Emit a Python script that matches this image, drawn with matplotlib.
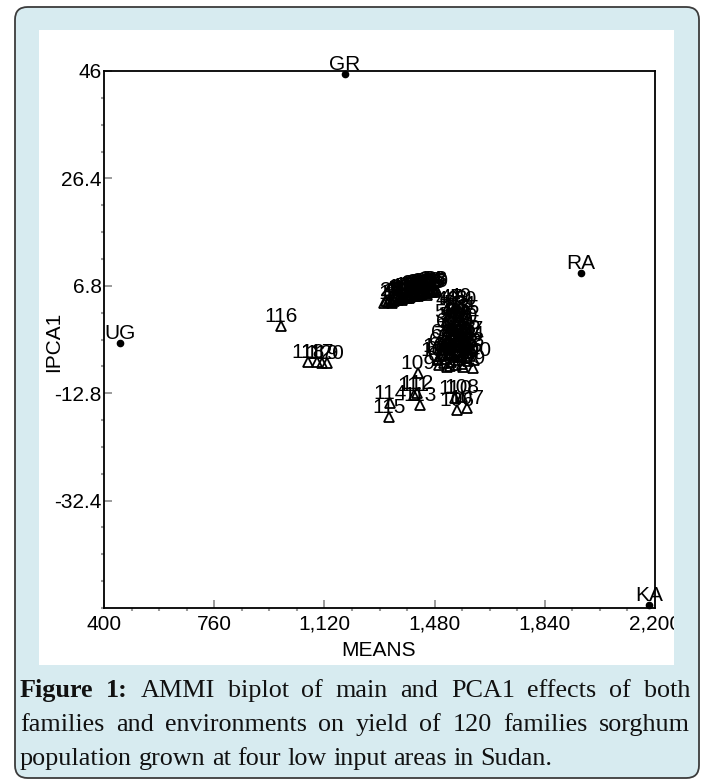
import numpy as np
import matplotlib.pyplot as plt
from matplotlib.patches import FancyBboxPatch, Rectangle

# ---- data ----
fam_ids = list(range(1, 121))
fam_means = [
    # 1-45 (upper cluster)
    1316, 1322, 1327, 1333, 1338, 1344, 1349, 1354, 1360, 1365,
    1370, 1375, 1380, 1385, 1390, 1395, 1400, 1404, 1408, 1412,
    1416, 1420, 1424, 1428, 1432, 1436, 1440, 1444, 1448, 1452,
    1456, 1460, 1464, 1468, 1472, 1476, 1480, 1484, 1488, 1340,
    1372, 1398, 1426, 1455, 1478,
    # 46-104 (right cluster)
    1520, 1535, 1550, 1565, 1580, 1528, 1545, 1560, 1575, 1588,
    1518, 1532, 1550, 1567, 1582, 1524, 1540, 1556, 1572, 1590,
    1490, 1495, 1500, 1505, 1508, 1512, 1515, 1518, 1521, 1525,
    1528, 1532, 1535, 1538, 1542, 1546, 1549, 1552, 1555, 1558,
    1562, 1565, 1568, 1573, 1576, 1579, 1582, 1586, 1590, 1594,
    1597, 1600, 1603, 1606, 1609, 1498, 1530, 1560, 1585,
    # 105-120
    1490, 1553, 1586, 1570, 1426, 1547, 1412, 1423, 1432, 1334,
    1331, 978, 1096, 1066, 1112, 1128,
]
fam_ipca = [
    3.6, 4.1, 3.8, 4.3, 3.9, 4.4, 4.0, 4.6, 4.2, 4.7,
    4.3, 4.9, 4.5, 5.0, 4.6, 5.1, 4.8, 5.3, 4.9, 5.4,
    5.0, 5.5, 5.1, 5.6, 5.2, 5.7, 5.3, 5.8, 5.4, 5.9,
    5.5, 6.0, 5.6, 6.1, 5.7, 6.2, 5.8, 6.1, 5.9, 3.6,
    4.2, 4.5, 4.9, 5.2, 5.6,
    2.6, 2.9, 2.7, 3.0, 2.5, 1.5, 1.8, 1.2, 1.6, 0.9,
    0.2, -0.4, 0.4, -0.2, -0.6, -1.5, -2.0, -1.3, -2.2, -1.8,
    -6.5, -7.6, -4.9, -3.4, -5.8, -7.2, -3.9, -6.6, -8.0, -4.6,
    -2.9, -5.5, -7.1, -3.6, -6.2, -4.3, -7.6, -5.1, -3.2, -6.8,
    -4.0, -5.9, -7.4, -8.0, -3.5, -4.8, -6.3, -5.4, -7.0, -4.2,
    -6.0, -3.0, -5.0, -8.2, -6.7, -6.0, -7.9, -2.7, -3.8,
    -6.8, -15.9, -15.5, -13.5, -9.1, -13.7, -13.2, -12.8, -15.0, -14.6,
    -17.1, -0.5, -7.1, -7.1, -7.3, -7.3,
]
env_names = ['GR', 'UG', 'RA', 'KA']
env_means = [1187, 452, 1958, 2180]
env_ipca = [45.5, -3.6, 9.1, -51.5]

xticks = [400, 760, 1120, 1480, 1840, 2200]
xtick_labels = ['400', '760', '1,120', '1,480', '1,840', '2,200']
yticks = [46, 26.4, 6.8, -12.8, -32.4]
ytick_labels = ['46', '26.4', '6.8', '-12.8', '-32.4']

caption_l1 = [('Figure', True), ('1:', True), ('AMMI', False), ('biplot', False),
              ('of', False), ('main', False), ('and', False), ('PCA1', False),
              ('effects', False), ('of', False), ('both', False)]
caption_l2 = 'families and environments on yield of 120 families sorghum'
caption_l3 = 'population grown at four low input areas in Sudan.'

# ---- figure ----
W, H = 703, 783
fx = lambda px: px / W
fy = lambda py: 1 - py / H
BLUE = '#d7ebf0'
SANS = 'Liberation Sans'

fig = plt.figure(figsize=(W / 100, H / 100), dpi=100)

box = FancyBboxPatch((fx(15), fy(778)), fx(699) - fx(15), fy(7) - fy(778),
                     boxstyle='round,pad=0,rounding_size=0.018',
                     mutation_aspect=W / H, transform=fig.transFigure,
                     facecolor=BLUE, edgecolor='#3c3c3c', lw=1.3, zorder=-2)
fig.add_artist(box)
fig.add_artist(Rectangle((fx(39), fy(665)), fx(674) - fx(39), fy(30) - fy(665),
                         transform=fig.transFigure, facecolor='white',
                         edgecolor='none', zorder=-1))

ax = fig.add_axes([fx(104), fy(608), fx(655) - fx(104), fy(71) - fy(608)])
ax.set_xlim(400, 2200)
ax.set_ylim(-52, 46)

ax.plot(fam_means, fam_ipca, linestyle='none', marker='^', ms=7,
        mfc='none', mec='black', mew=1.3, clip_on=False)
for i, xm, yp in zip(fam_ids, fam_means, fam_ipca):
    ax.annotate(str(i), (xm, yp), xytext=(0, 3), textcoords='offset points',
                ha='center', va='baseline', fontsize=15, family=SANS,
                annotation_clip=False)

ax.plot(env_means, env_ipca, linestyle='none', marker='o', ms=4.5,
        mfc='black', mec='black', clip_on=False)
for nm, xm, yp in zip(env_names, env_means, env_ipca):
    ax.annotate(nm, (xm, yp), xytext=(0, 3), textcoords='offset points',
                ha='center', va='baseline', fontsize=15, family=SANS,
                annotation_clip=False)

ax.set_xticks(xticks)
ax.set_xticklabels(xtick_labels, fontsize=15, family=SANS)
ax.set_yticks(yticks)
ax.set_yticklabels(ytick_labels, fontsize=15, family=SANS)
ax.set_xticks(np.arange(400, 2201, 90), minor=True)
ax.set_yticks(np.arange(-52, 46.1, 4.9), minor=True)
ax.tick_params(which='major', direction='in', length=6, width=1.2,
               color='#8a8a8a')
ax.tick_params(axis='x', which='major', pad=5)
ax.tick_params(axis='y', which='major', pad=1.5)
ax.tick_params(which='minor', direction='out', length=2, width=1.5,
               color='#9a9a9a')
for s in ax.spines.values():
    s.set_linewidth(1.3)
    s.set_color('black')

fig.text(fx(379), fy(651), 'MEANS', ha='center', va='center', fontsize=15,
         family=SANS)
fig.text(fx(54), fy(342), 'IPCA1', ha='center', va='center', rotation=90,
         fontsize=15, family=SANS)

# cover the clipped part of the last tick label, as in the source
fig.add_artist(Rectangle((fx(674), fy(660)), fx(697.5) - fx(674), fy(560) - fy(660),
                         transform=fig.transFigure, facecolor=BLUE,
                         edgecolor='none', zorder=5))

# ---- caption (justified) ----
SERIF = 'Liberation Serif'
renderer = fig.canvas.get_renderer()
cap_left, cap_right = 20, 690

probe = fig.text(0, 0, caption_l3, fontsize=16, family=SERIF)
cap_fs = 16 * 532 / probe.get_window_extent(renderer).width
probe.remove()


def caption_line(words, base_px, justify):
    arts = [fig.text(0, fy(base_px), w, fontsize=cap_fs, family=SERIF,
                     weight='bold' if b else 'normal', va='baseline',
                     color='#111111') for w, b in words]
    widths = [a.get_window_extent(renderer).width for a in arts]
    if justify:
        gap = (cap_right - cap_left - sum(widths)) / (len(arts) - 1)
    else:
        gap = 0.25 * cap_fs * 100 / 72
    xpos = cap_left
    for a, wd in zip(arts, widths):
        a.set_x(xpos / W)
        xpos += wd + gap


caption_line(caption_l1, 697, True)
caption_line([(w, False) for w in caption_l2.split()], 731, True)
caption_line([(w, False) for w in caption_l3.split()], 765, False)

fig.savefig('out.png', dpi=100)
